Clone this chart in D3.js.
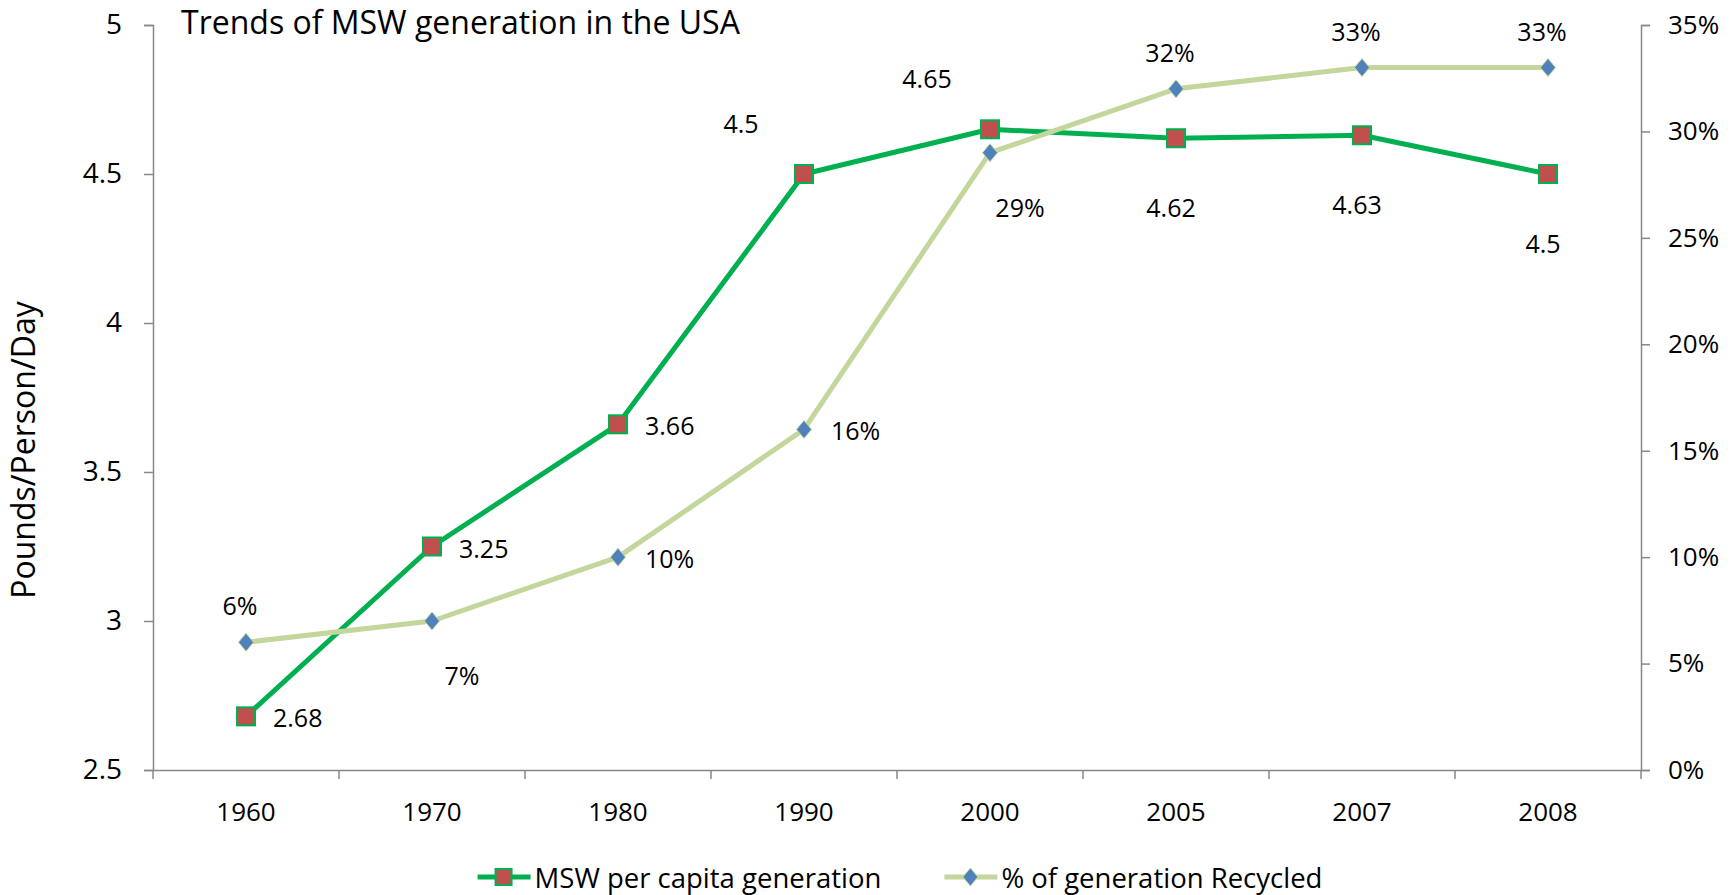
<!DOCTYPE html>
<html lang="en">

<head>
  <meta charset="UTF-8">
  <title>Trends of MSW generation in the USA</title>
  <script src="https://cdn.jsdelivr.net/npm/d3@7"></script>
  <style>
    body {
      margin: 0;
      background: #fff;
    }

    svg text {
      font-family: "Open Sans", sans-serif;
      fill: #000;
    }

    .axis path,
    .axis line {
      stroke: #888;
      stroke-width: 1.5px;
    }
  </style>
</head>

<body>
  <div id="container"></div>

  <script>
    const svg_width = 1732;
    const svg_height = 895;

    // data
    var years = ["1960", "1970", "1980", "1990", "2000", "2005", "2007", "2008"];
    var msw = [2.68, 3.25, 3.66, 4.5, 4.65, 4.62, 4.63, 4.5];
    var recycled = [0.06, 0.07, 0.10, 0.16, 0.29, 0.32, 0.33, 0.33];
    var leftTicks = [2.5, 3, 3.5, 4, 4.5, 5];
    var rightTicks = [0, 0.05, 0.10, 0.15, 0.20, 0.25, 0.30, 0.35];

    // where each data label sits relative to its marker
    var mswLabelPos = ["right", "right", "right", "upLeft", "upLeft", "below", "below", "below"];
    var recLabelPos = ["above", "belowRight", "right", "right", "belowRight", "above", "above", "above"];

    var labelOffsets = {
      right: { dx: 27, dy: 1, anchor: "start" },
      above: { dx: -6, dy: -37, anchor: "middle" },
      below: { dx: -5, dy: 69, anchor: "middle" },
      belowRight: { dx: 30, dy: 54, anchor: "middle" },
      upLeft: { dx: -63, dy: -51, anchor: "middle" }
    };

    var margin = { left: 153, right: 91, top: 25, bottom: 125 };
    var plotW = svg_width - margin.left - margin.right;
    var plotH = svg_height - margin.top - margin.bottom;

    var svg = d3.select("#container")
      .append("svg")
      .attr("width", svg_width)
      .attr("height", svg_height);

    var g = svg.append("g")
      .attr("transform", "translate(" + margin.left + "," + margin.top + ")");

    // scales
    var x_scale = d3.scaleBand().domain(years).range([0, plotW]).padding(0);
    var yL = d3.scaleLinear().domain([2.5, 5]).range([plotH, 0]);
    var yR = d3.scaleLinear().domain([0, 0.35]).range([plotH, 0]);
    var cx = function (i) { return x_scale(years[i]) + x_scale.bandwidth() / 2; };

    // left axis
    g.append("g").attr("class", "axis")
      .call(d3.axisLeft(yL).tickValues(leftTicks).tickSize(9).tickPadding(22).tickFormat(d3.format("")))
      .selectAll("text").style("font-size", "28px");

    // right axis
    g.append("g").attr("class", "axis")
      .attr("transform", "translate(" + plotW + ",0)")
      .call(d3.axisRight(yR).tickValues(rightTicks).tickSize(9).tickPadding(18).tickFormat(d3.format(".0%")))
      .selectAll("text").style("font-size", "26px");

    // x axis (ticks between categories)
    var xAxis = g.append("g").attr("class", "axis")
      .attr("transform", "translate(0," + plotH + ")")
      .call(d3.axisBottom(x_scale).tickSize(0).tickPadding(33).tickSizeOuter(0));
    xAxis.selectAll("text").style("font-size", "26px");
    xAxis.selectAll("line.sep")
      .data(d3.range(years.length + 1))
      .enter()
      .append("line")
      .attr("class", "sep")
      .attr("x1", function (d) { return d * x_scale.step(); })
      .attr("x2", function (d) { return d * x_scale.step(); })
      .attr("y1", 0)
      .attr("y2", 9);

    // title
    g.append("text")
      .attr("x", 28)
      .attr("y", 9)
      .style("font-size", "32px")
      .text("Trends of MSW generation in the USA");

    // y axis title
    svg.append("text")
      .attr("transform", "translate(35,450) rotate(-90)")
      .attr("text-anchor", "middle")
      .style("font-size", "32px")
      .text("Pounds/Person/Day");

    // lines
    var mswLine = d3.line()
      .x(function (d, i) { return cx(i); })
      .y(function (d) { return yL(d); });
    var recLine = d3.line()
      .x(function (d, i) { return cx(i); })
      .y(function (d) { return yR(d); });

    g.append("path")
      .datum(msw)
      .attr("d", mswLine)
      .attr("fill", "none")
      .attr("stroke", "#00B050")
      .attr("stroke-width", 5)
      .attr("stroke-linejoin", "round");

    g.selectAll("rect.msw")
      .data(msw)
      .enter()
      .append("rect")
      .attr("class", "msw")
      .attr("x", function (d, i) { return cx(i) - 9; })
      .attr("y", function (d) { return yL(d) - 9; })
      .attr("width", 18)
      .attr("height", 18)
      .attr("fill", "#C0504D")
      .attr("stroke", "#00B050")
      .attr("stroke-width", 2);

    g.append("path")
      .datum(recycled)
      .attr("d", recLine)
      .attr("fill", "none")
      .attr("stroke", "#C3D69B")
      .attr("stroke-width", 5)
      .attr("stroke-linejoin", "round");

    var diamond = "M0,-9L7.5,0L0,9L-7.5,0Z";
    g.selectAll("path.rec")
      .data(recycled)
      .enter()
      .append("path")
      .attr("class", "rec")
      .attr("d", diamond)
      .attr("transform", function (d, i) { return "translate(" + cx(i) + "," + yR(d) + ")"; })
      .attr("fill", "#4F81BD")
      .attr("stroke", "#C3D69B")
      .attr("stroke-width", 1);

    // data labels
    g.selectAll("text.mswlab")
      .data(msw)
      .enter()
      .append("text")
      .attr("class", "mswlab")
      .attr("x", function (d, i) { return cx(i) + labelOffsets[mswLabelPos[i]].dx; })
      .attr("y", function (d, i) { return yL(d) + labelOffsets[mswLabelPos[i]].dy; })
      .attr("text-anchor", function (d, i) { return labelOffsets[mswLabelPos[i]].anchor; })
      .attr("dominant-baseline", "central")
      .style("font-size", "25px")
      .text(function (d) { return d; });

    g.selectAll("text.reclab")
      .data(recycled)
      .enter()
      .append("text")
      .attr("class", "reclab")
      .attr("x", function (d, i) { return cx(i) + labelOffsets[recLabelPos[i]].dx; })
      .attr("y", function (d, i) { return yR(d) + labelOffsets[recLabelPos[i]].dy; })
      .attr("text-anchor", function (d, i) { return labelOffsets[recLabelPos[i]].anchor; })
      .attr("dominant-baseline", "central")
      .style("font-size", "25px")
      .text(function (d) { return d3.format(".0%")(d); });

    // legend
    var legend = svg.append("g").attr("transform", "translate(0,877)");
    var items = [
      { name: "MSW per capita generation", line: "#00B050", kind: "square" },
      { name: "% of generation Recycled", line: "#C3D69B", kind: "diamond" }
    ];
    var entries = legend.selectAll("g.item")
      .data(items)
      .enter()
      .append("g")
      .attr("class", "item");
    entries.append("line")
      .attr("x1", 0).attr("x2", 53)
      .attr("stroke", function (d) { return d.line; })
      .attr("stroke-width", 5);
    entries.each(function (d) {
      var e = d3.select(this);
      if (d.kind === "square") {
        e.append("rect").attr("x", 18).attr("y", -8).attr("width", 16).attr("height", 16)
          .attr("fill", "#C0504D").attr("stroke", "#00B050").attr("stroke-width", 2);
      } else {
        e.append("path").attr("d", diamond).attr("transform", "translate(26,0)")
          .attr("fill", "#4F81BD").attr("stroke", "#C3D69B");
      }
    });
    entries.append("text")
      .attr("x", 57)
      .attr("dominant-baseline", "central")
      .style("font-size", "27.5px")
      .text(function (d) { return d.name; });
    var widths = [];
    entries.each(function () { widths.push(this.getBBox().width); });
    var gap = 63;
    var total = d3.sum(widths) + gap * (widths.length - 1);
    var start = margin.left + plotW / 2 + 3 - total / 2;
    entries.attr("transform", function (d, i) {
      var xx = start + d3.sum(widths.slice(0, i)) + gap * i;
      return "translate(" + xx + ",0)";
    });
  </script>

</body>

</html>
